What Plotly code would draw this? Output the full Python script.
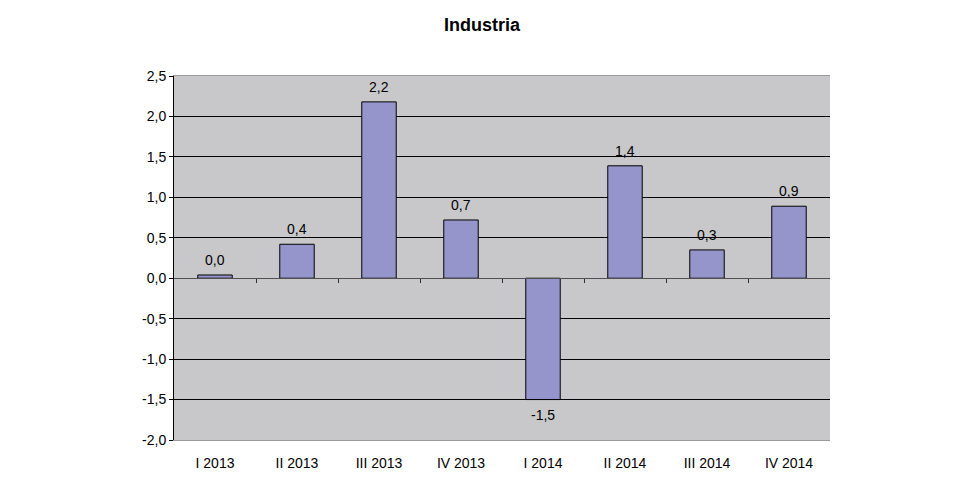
import plotly.graph_objects as go

categories = ["I 2013", "II 2013", "III 2013", "IV 2013", "I 2014", "II 2014", "III 2014", "IV 2014"]
values = [0.04, 0.42, 2.18, 0.72, -1.50, 1.39, 0.35, 0.89]
labels = ["0,0", "0,4", "2,2", "0,7", "-1,5", "1,4", "0,3", "0,9"]
y_ticks = [-2.0, -1.5, -1.0, -0.5, 0.0, 0.5, 1.0, 1.5, 2.0, 2.5]
y_tick_text = [f"{v:.1f}".replace(".", ",") for v in y_ticks]

FONT = "Liberation Sans, Arial, sans-serif"
y_min, y_max = -2.0, 2.5
x_idx = list(range(len(categories)))

fig = go.Figure()
fig.add_trace(go.Bar(
    x=x_idx, y=values,
    marker=dict(color="#9595CB", line=dict(color="#000000", width=1)),
    width=0.42, hoverinfo="skip",
))
fig.add_trace(go.Scatter(x=[None], y=[None], xaxis="x2", showlegend=False))

annotations = []
for xi, v, lab in zip(x_idx, values, labels):
    annotations.append(dict(
        x=xi, y=v, xref="x", yref="y", text=lab, showarrow=False,
        yanchor="bottom" if v >= 0 else "top", yshift=5 if v >= 0 else -5,
        font=dict(size=14, family=FONT, color="#000000"),
    ))

zero_pos = (0 - y_min) / (y_max - y_min)

# page body margin of 8px: figure placed at (8, 8)
OFF = 8
W, H = 965 - 2 * OFF, 479 - OFF
L, T = 174 - OFF, 76 - OFF
R, B = W - (830 - OFF), H - (440 - OFF)

fig.update_layout(
    width=W, height=H,
    margin=dict(l=L, r=R, t=T, b=B, autoexpand=False),
    paper_bgcolor="white", plot_bgcolor="#C8C8CA",
    showlegend=False,
    title=dict(text="<b>Industria</b>", x=(482 - OFF) / W, xref="container", xanchor="center",
               y=1 - (25 - OFF) / H, yanchor="middle", font=dict(size=18, family=FONT, color="#000000")),
    font=dict(family=FONT, size=14, color="#000000"),
    annotations=annotations,
    xaxis=dict(
        range=[-0.5, len(categories) - 0.5],
        tickvals=x_idx, ticktext=categories, automargin=False,
        showgrid=False, zeroline=False, ticks="", showline=True, linecolor="#9a9a9a", linewidth=1,
        mirror=True, ticklabelstandoff=10, tickfont=dict(size=14, family=FONT),
    ),
    xaxis2=dict(
        overlaying="x", anchor="free", position=zero_pos, automargin=False,
        range=[-0.5, len(categories) - 0.5],
        tickvals=[i + 0.5 for i in range(len(categories) - 1)],
        ticks="outside", ticklen=4, tickcolor="#303030", tickwidth=1,
        showticklabels=False, showline=True, linecolor="#505050", linewidth=1,
        showgrid=False, zeroline=False,
    ),
    yaxis=dict(
        range=[y_min, y_max], tickvals=y_ticks, ticktext=y_tick_text, automargin=False,
        showgrid=True, gridcolor="#000000", gridwidth=1, zeroline=False,
        showline=True, linecolor="#000000", linewidth=1,
        ticks="outside", ticklen=4, tickcolor="#000000",
        tickfont=dict(size=14, family=FONT),
    ),
)

fig.write_html("out.html")
